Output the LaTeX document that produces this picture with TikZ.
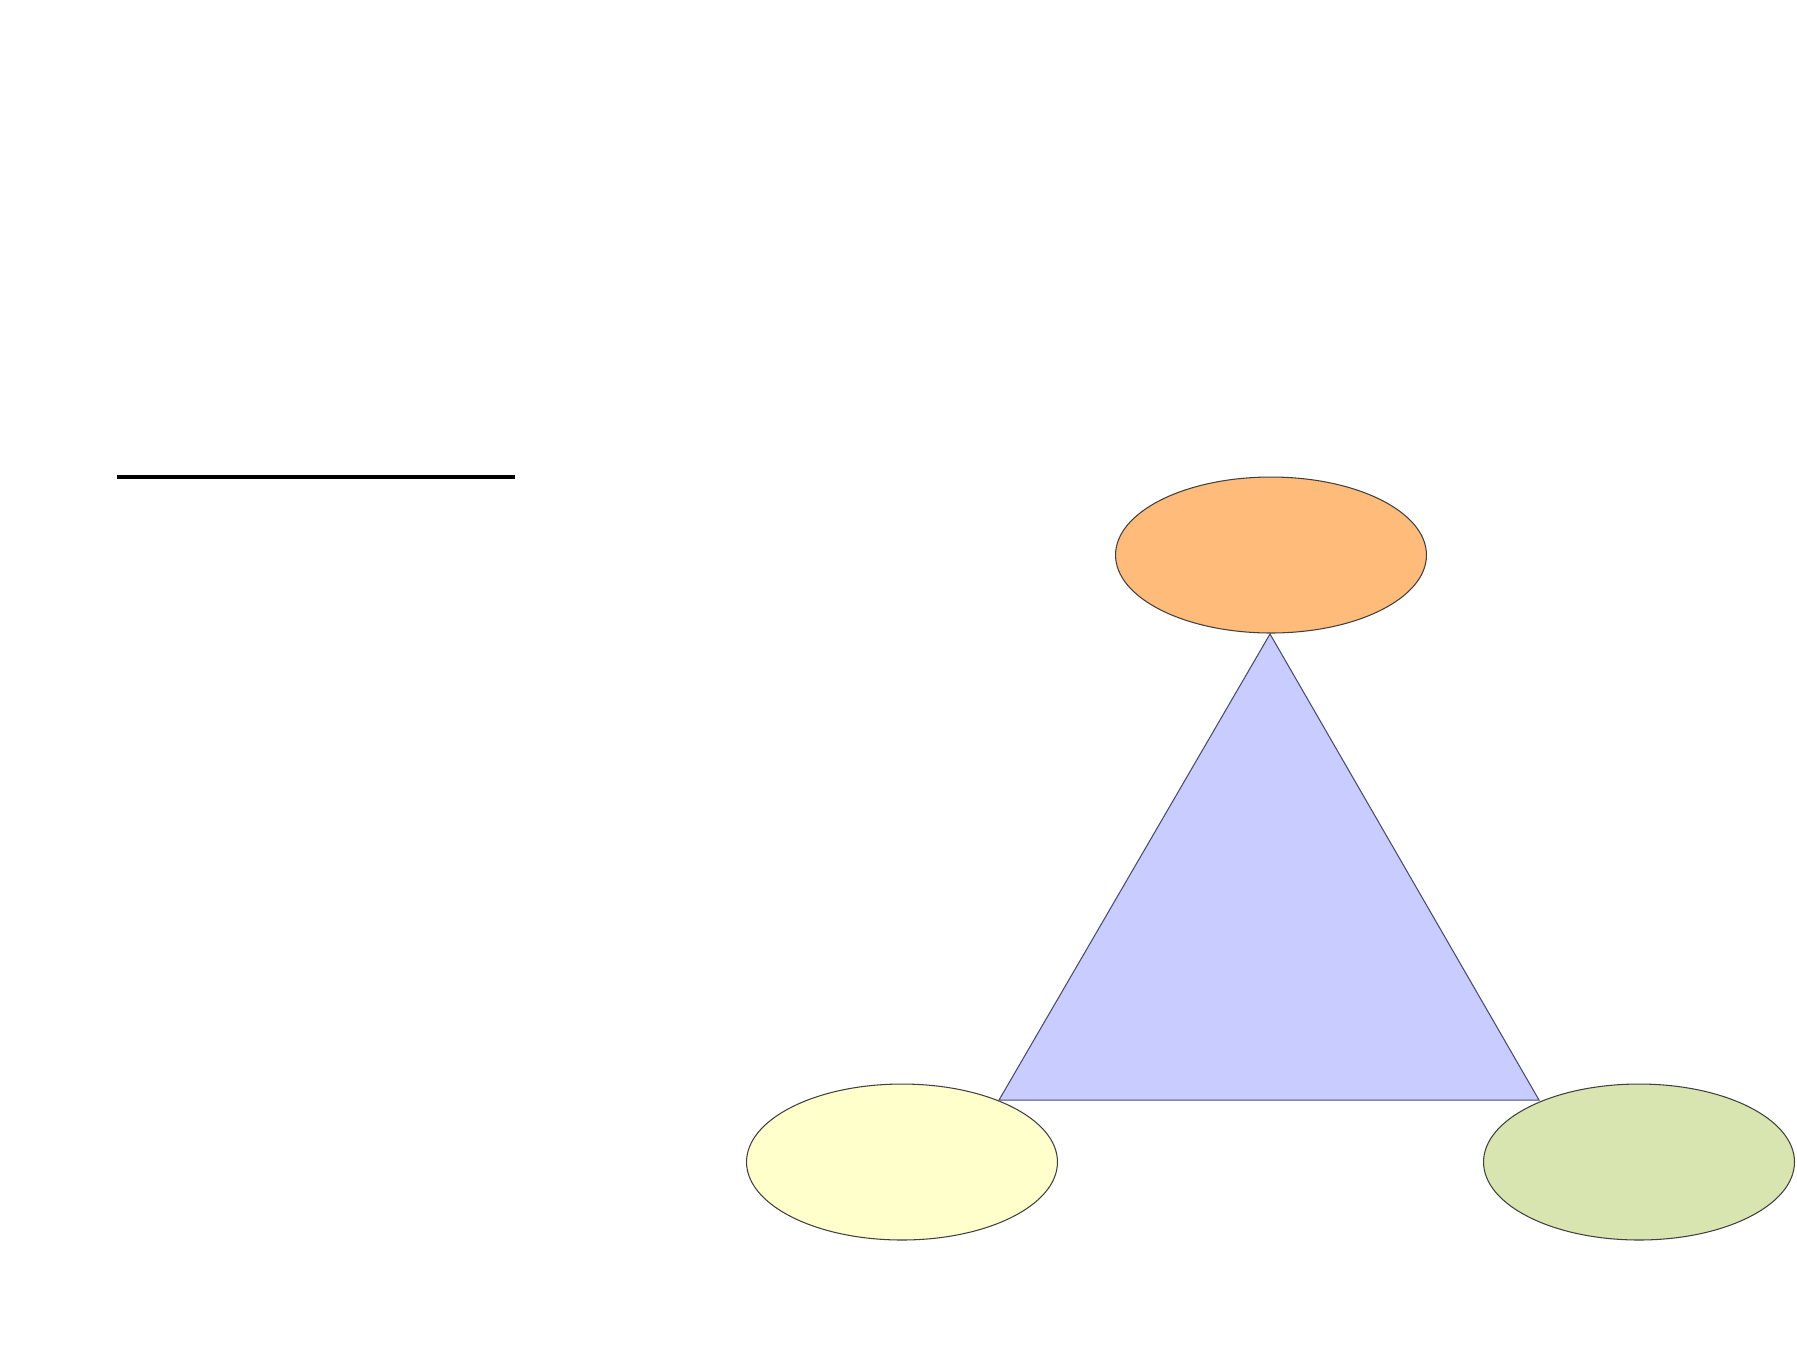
\documentclass[tikz,border=0pt]{standalone}
\usetikzlibrary{shapes}
\definecolor{tri_blue}{RGB}{200,204,255}
\definecolor{tri_edge}{RGB}{72,76,112}
\definecolor{el_orange}{RGB}{255,187,121}
\definecolor{el_yellow}{RGB}{255,255,204}
\definecolor{el_green}{RGB}{216,229,176}
\tikzstyle{en}=[ellipse,draw=black!75,line width=0.6pt,inner sep=0pt,
  minimum width=6.22cm,minimum height=3.12cm]
\tikzstyle{tri}=[fill=tri_blue,draw=tri_edge,line width=0.6pt]

\begin{document}
\begin{tikzpicture}[x=0.02cm,y=-0.02cm]
    \useasboundingbox (0,0) rectangle (1797,1347);
    \coordinate (rulel) at (117,477);
    \coordinate (ruler) at (515,477);
    \coordinate (apex) at (1270,634);
    \coordinate (basel) at (999,1100);
    \coordinate (baser) at (1539,1100);
    \draw [line width=0.08cm] (rulel) to (ruler);
    \draw [style=tri] (apex) -- (basel) -- (baser) -- cycle;
    \node [style=en,fill=el_orange] (topel) at (1271,555) {};
    \node [style=en,fill=el_yellow] (leftel) at (902,1162) {};
    \node [style=en,fill=el_green] (rightel) at (1639,1162) {};
  \end{tikzpicture}
\end{document}
